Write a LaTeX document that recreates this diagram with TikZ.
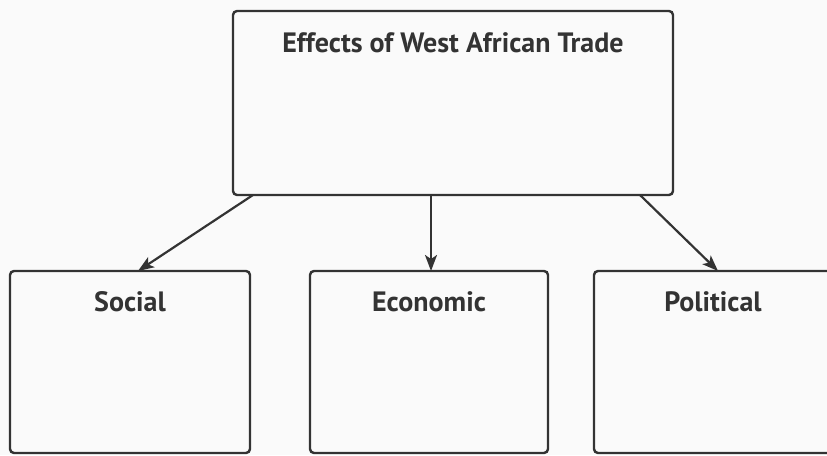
\documentclass[tikz,border=0pt]{standalone}
\usepackage{fontspec}
\setmainfont{PT Sans}
\usetikzlibrary{arrows.meta}
\definecolor{ink}{HTML}{333333}
\begin{document}
\begin{tikzpicture}[x=1pt,y=1pt,
  box/.style={draw=ink, line width=2.4pt, rounded corners=4pt},
  lbl/.style={text=ink, font=\fontsize{28}{31}\selectfont\bfseries, inner sep=0pt},
  conn/.style={draw=ink, line width=2.2pt, -{Stealth[length=16pt,width=12pt,inset=4pt]}}]
\useasboundingbox (0,0) rectangle (827,455);
\clip (0,0) rectangle (827,455);
\fill[white!98!black] (0,0) rectangle (827,455);
% boxes (y = 455 - ypx)
\draw[box] (233,444) rectangle (673,260);
\node[lbl] (top) at (453,412) {Effects of West African Trade};
\draw[box] (10,184) rectangle (250,2);
\node[lbl] (soc) at (130,153) {Social};
\draw[box] (310,184) rectangle (548,2);
\node[lbl] (eco) at (429,153) {Economic};
\draw[box] (594,184) rectangle (834,2);
\node[lbl] (pol) at (713,153) {Political};
% connector endpoints
\coordinate (t1) at (253,260);
\coordinate (t2) at (431,260);
\coordinate (t3) at (640,260);
\coordinate (s1) at (138,184);
\coordinate (s2) at (431,184);
\coordinate (s3) at (718,184);
\draw[conn] (t1) -- (s1);
\draw[conn] (t2) -- (s2);
\draw[conn] (t3) -- (s3);
\end{tikzpicture}
\end{document}
